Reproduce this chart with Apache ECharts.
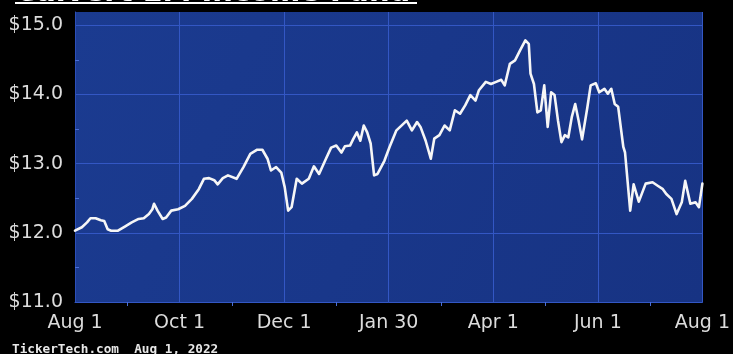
<!DOCTYPE html>
<html>
<head>
<meta charset="utf-8">
<title>Calvert EM Income Fund</title>
<script src="https://cdn.jsdelivr.net/npm/echarts@6/dist/echarts.min.js"></script>
<style>
  html, body { margin: 0; padding: 0; background: #000; }
  #chart { width: 733px; height: 354px; }
</style>
</head>
<body>
<div id="chart"></div>
<script>
// Share price, Aug 1 2021 – Aug 1 2022
const dates = [
  "2021-08-01","2021-08-05","2021-08-08","2021-08-10","2021-08-13","2021-08-16","2021-08-18","2021-08-20",
  "2021-08-22","2021-08-26","2021-08-30","2021-09-03","2021-09-07","2021-09-10","2021-09-13","2021-09-15",
  "2021-09-16","2021-09-18","2021-09-21","2021-09-23","2021-09-26","2021-09-30","2021-10-04","2021-10-08",
  "2021-10-12","2021-10-15","2021-10-18","2021-10-21","2021-10-23","2021-10-26","2021-10-29","2021-11-03",
  "2021-11-07","2021-11-11","2021-11-15","2021-11-18","2021-11-21","2021-11-23","2021-11-26","2021-11-29",
  "2021-12-01","2021-12-03","2021-12-05","2021-12-08","2021-12-11","2021-12-15","2021-12-18","2021-12-21",
  "2021-12-25","2021-12-28","2021-12-31","2022-01-03","2022-01-05","2022-01-08","2022-01-10","2022-01-12",
  "2022-01-14","2022-01-16","2022-01-18","2022-01-20","2022-01-22","2022-01-24","2022-01-28","2022-01-31",
  "2022-02-04","2022-02-10","2022-02-13","2022-02-16","2022-02-18","2022-02-21","2022-02-24","2022-02-26",
  "2022-03-01","2022-03-04","2022-03-07","2022-03-10","2022-03-13","2022-03-16","2022-03-19","2022-03-22",
  "2022-03-24","2022-03-28","2022-03-31","2022-04-03","2022-04-06","2022-04-08","2022-04-11","2022-04-14",
  "2022-04-17","2022-04-20","2022-04-22","2022-04-23","2022-04-25","2022-04-27","2022-04-29","2022-05-01",
  "2022-05-03","2022-05-05","2022-05-07","2022-05-09","2022-05-11","2022-05-13","2022-05-15","2022-05-17",
  "2022-05-19","2022-05-21","2022-05-23","2022-05-26","2022-05-28","2022-05-31","2022-06-02","2022-06-05",
  "2022-06-07","2022-06-09","2022-06-11","2022-06-13","2022-06-16","2022-06-17","2022-06-20","2022-06-22",
  "2022-06-25","2022-06-29","2022-07-03","2022-07-06","2022-07-09","2022-07-11","2022-07-14","2022-07-17",
  "2022-07-20","2022-07-22","2022-07-25","2022-07-28","2022-07-30","2022-08-01"
];
const prices = [
  12.03,12.08,12.15,12.21,12.21,12.18,12.17,12.05,
  12.03,12.03,12.09,12.15,12.20,12.21,12.27,12.34,
  12.42,12.32,12.20,12.22,12.32,12.34,12.39,12.49,
  12.63,12.78,12.79,12.76,12.70,12.79,12.83,12.78,
  12.95,13.14,13.20,13.20,13.07,12.90,12.95,12.87,
  12.66,12.32,12.37,12.78,12.71,12.78,12.96,12.85,
  13.07,13.23,13.26,13.16,13.25,13.26,13.36,13.45,
  13.33,13.55,13.45,13.29,12.83,12.85,13.04,13.24,
  13.48,13.62,13.48,13.60,13.53,13.33,13.07,13.36,
  13.41,13.55,13.48,13.77,13.72,13.84,13.99,13.91,
  14.06,14.18,14.15,14.18,14.21,14.13,14.44,14.49,
  14.64,14.78,14.73,14.30,14.15,13.74,13.77,14.13,
  13.53,14.03,13.99,13.62,13.31,13.41,13.38,13.67,
  13.86,13.62,13.35,13.80,14.13,14.16,14.03,14.08,
  14.01,14.08,13.86,13.82,13.24,13.16,12.32,12.70,
  12.45,12.71,12.73,12.68,12.63,12.56,12.49,12.27,
  12.44,12.75,12.42,12.44,12.37,12.71
];
const tickLabels = ["Aug 1", "Oct 1", "Dec 1", "Jan 30", "Apr 1", "Jun 1", "Aug 1"];
const titleText = "Calvert EM Income Fund";
const footerText = "TickerTech.com  Aug 1, 2022";

// x is measured in hours since the start date, so one sixth of the year is a whole number
const start = Date.UTC(2021, 7, 1);
const HOURS_SPAN = 365 * 24;
const STEP = HOURS_SPAN / 6;
const toHours = s => (Date.parse(s) - start) / 3600000;
const seriesData = dates.map((d, i) => [toHours(d), prices[i]]);

const gridBlue = '#3357c4';
const labelFont = { color: '#dcdcdc', fontSize: 19, fontFamily: 'DejaVu Sans' };

const chart = echarts.init(document.getElementById('chart'), null, { renderer: 'canvas' });
chart.setOption({
  backgroundColor: '#000',
  animation: false,
  grid: {
    left: 75, right: 30, top: 12, bottom: 52,
    show: true,
    borderWidth: 0,
    backgroundColor: {
      type: 'linear', x: 0, y: 0, x2: 1, y2: 1,
      colorStops: [
        { offset: 0, color: '#1b3b90' },
        { offset: 0.5, color: '#19378a' },
        { offset: 1, color: '#173383' }
      ]
    }
  },
  xAxis: {
    type: 'value',
    min: 0, max: HOURS_SPAN, interval: STEP,
    axisLine: { show: true, lineStyle: { color: gridBlue, width: 1 } },
    axisTick: { show: false },
    minorTick: { show: true, splitNumber: 2, length: 4, lineStyle: { color: '#4a6fd8', width: 1 } },
    splitLine: { show: true, lineStyle: { color: gridBlue, width: 1 } },
    axisLabel: Object.assign({}, labelFont, {
      margin: 12,
      formatter: v => tickLabels[Math.round(v / STEP)] || ''
    })
  },
  yAxis: {
    type: 'value',
    min: 11, max: 15.19, interval: 1,
    axisLine: { show: true, lineStyle: { color: '#2c4fb8', width: 1 } },
    axisTick: { show: true, inside: true, length: 0 },
    minorTick: { show: true, splitNumber: 2, length: 4, lineStyle: { color: '#4a6fd8', width: 1 } },
    splitLine: { show: true, showMaxLine: false, lineStyle: { color: gridBlue, width: 1 } },
    axisLabel: Object.assign({}, labelFont, {
      margin: 12,
      showMaxLabel: false,
      formatter: v => (Math.abs(v - Math.round(v)) < 1e-9 ? '$' + v.toFixed(1) : '')
    })
  },
  series: [{
    type: 'line',
    data: seriesData,
    showSymbol: false,
    silent: true,
    lineStyle: { color: '#f6f6f6', width: 2.6, cap: 'round', join: 'round' }
  }],
  graphic: [
    {
      // only the foot of the heading falls inside the canvas
      type: 'text', x: 15, y: 8, silent: true,
      style: {
        text: titleText, fill: '#ffffff',
        font: 'bold 29px "DejaVu Sans"',
        verticalAlign: 'bottom'
      }
    },
    {
      type: 'rect', silent: true,
      shape: { x: 15, y: 2, width: 402, height: 2 },
      style: { fill: '#ffffff' }
    },
    {
      type: 'text', left: 12, top: 343, silent: true,
      style: { text: footerText, fill: '#e8e8e8', font: 'bold 12.7px "DejaVu Sans Mono"' }
    }
  ]
});
</script>
</body>
</html>
